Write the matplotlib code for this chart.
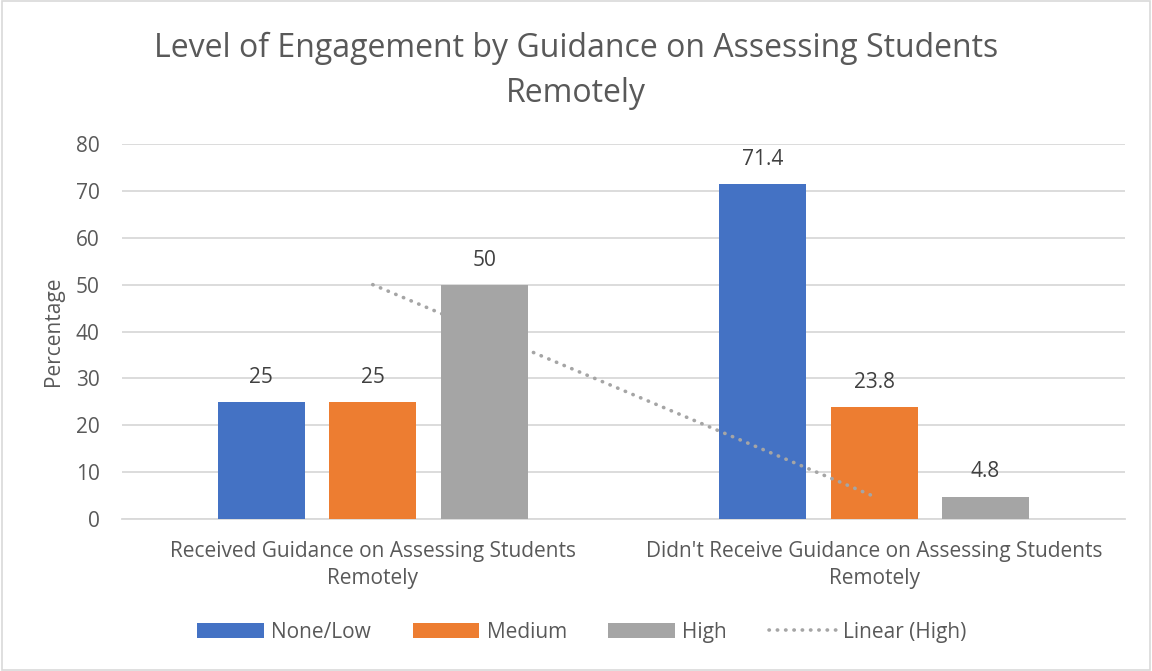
import matplotlib.pyplot as plt
import numpy as np
from matplotlib.patches import Rectangle

plt.rcParams['font.family'] = ['Open Sans', 'DejaVu Sans']

categories = ["Received Guidance on Assessing Students\nRemotely",
              "Didn't Receive Guidance on Assessing Students\nRemotely"]
series_names = ["None/Low", "Medium", "High"]
none_low = [25, 71.4]
medium = [25, 23.8]
high = [50, 4.8]
colors = ["#4472C4", "#ED7D31", "#A5A5A5"]

fig = plt.figure(figsize=(11.52, 6.71), dpi=100)
ax = fig.add_axes([0.1059, 0.2265, 0.8707, 0.5589])

x = np.arange(len(categories))
# linear trendline of High: above None/Low and Medium bars, under High bars
coef = np.polyfit(x + 1, high, 1)
trend = np.polyval(coef, x + 1)
ax.plot(x, trend, linestyle=(0, (0.1, 2.2)), dash_capstyle='round', color="#A5A5A5",
        linewidth=2.6, zorder=3.5, label="Linear (High)")

width = 0.1735
offs = [-0.222, 0, 0.222]
zs = [3, 3, 4]
for vals, off, c, name, z in zip([none_low, medium, high], offs, colors, series_names, zs):
    ax.bar(x + off, vals, width, color=c, zorder=z, label=name)
    for xi, v in zip(x + off, vals):
        ax.text(xi, v + 3.0, f"{v:g}", ha='center', va='bottom', fontsize=15, color="#404040")

ax.set_xlim(-0.5, 1.5)
ax.set_ylim(0, 80)
ax.set_yticks(range(0, 81, 10))
ax.yaxis.grid(True, color="#D9D9D9", linewidth=1.3)
ax.set_axisbelow(True)
for s in ['top', 'right', 'left']:
    ax.spines[s].set_visible(False)
ax.spines['bottom'].set_color("#D9D9D9")
ax.spines['bottom'].set_linewidth(1.3)
ax.tick_params(axis='both', length=0, labelsize=15, colors="#595959")
ax.tick_params(axis='y', pad=16)
ax.tick_params(axis='x', pad=16)
ax.set_xticks(x)
ax.set_xticklabels(categories, linespacing=1.35)
ax.set_ylabel("Percentage", fontsize=15, color="#595959", labelpad=8.5)

fig.suptitle("Level of Engagement by Guidance on Assessing Students\nRemotely",
             fontsize=23, color="#595959", x=0.5, y=0.952, linespacing=1.45)

handles, labels = ax.get_legend_handles_labels()
order = [1, 2, 3, 0]
leg = fig.legend([handles[i] for i in order], [labels[i] for i in order],
                 loc='center', bbox_to_anchor=(0.505, 0.058), ncol=4, frameon=False,
                 fontsize=15, handlelength=3.2, handleheight=0.75, columnspacing=2.0,
                 handletextpad=0.35)
for t in leg.get_texts():
    t.set_color("#595959")

fig.patches.append(Rectangle((0.002, 0.002), 0.996, 0.996, transform=fig.transFigure,
                             fill=False, edgecolor="#D9D9D9", linewidth=1.2))

fig.savefig("out.png", dpi=100)
